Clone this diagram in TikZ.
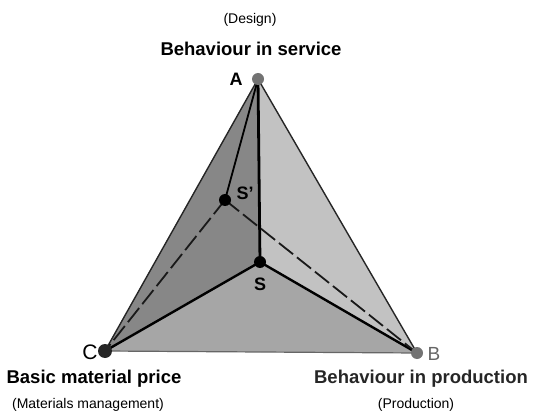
\documentclass[tikz,border=0pt]{standalone}
\usepackage{fontspec}
\setmainfont{Liberation Sans}
\begin{document}
\begin{tikzpicture}[x=1pt,y=-1pt,
  faceL/.style={fill=black!47},
  faceR/.style={fill=black!24},
  faceB/.style={fill=black!35},
  edge/.style={draw=black!85,line width=1.4pt},
  bottomedge/.style={draw=black!60,line width=1.2pt},
  heavy/.style={draw=black,line width=2.8pt},
  mid/.style={draw=black,line width=2.4pt},
  thin/.style={draw=black,line width=1.8pt},
  dashline/.style={draw=black!90,line width=1.8pt,dash pattern=on 18pt off 5pt},
  dot/.style={circle,inner sep=0pt,minimum size=#1},
  title/.style={font=\fontsize{18.5}{21}\selectfont\bfseries,inner sep=0pt},
  sub/.style={font=\fontsize{14}{17}\selectfont,inner sep=0pt},
  vlbl/.style={font=\fontsize{18}{20}\selectfont\bfseries,inner sep=0pt}
]
\useasboundingbox (0,0) rectangle (535,414);
\coordinate (A) at (258,79);
\coordinate (B) at (417,353);
\coordinate (C) at (105,351);
\coordinate (S) at (260,262);
\coordinate (Sp) at (225,200);
% faces
\fill[faceL] (A) -- (C) -- (S) -- cycle;
\fill[faceR] (A) -- (S) -- (B) -- cycle;
\fill[faceB] (C) -- (S) -- (B) -- cycle;
% outer edges
\draw[edge] (A) -- (C);
\draw[edge] (A) -- (B);
\draw[bottomedge] (C) -- (B);
% inner edges
\draw[heavy] (A) -- (S);
\draw[mid] (S) -- (C);
\draw[mid] (S) -- (B);
\draw[thin] (A) -- (Sp);
\draw[dashline] (Sp) -- (C);
\draw[dashline] (Sp) -- (B);
% vertex dots
\node[dot=12pt,fill=black!55] (dA) at (A) {};
\node[dot=12pt,fill=black!55] (dB) at (B) {};
\node[dot=14pt,fill=black!85] (dC) at (C) {};
\node[dot=12pt,fill=black] (dS) at (S) {};
\node[dot=12pt,fill=black] (dSp) at (Sp) {};
% vertex letters
\node[vlbl] (lA) at (236,79) {A};
\node[vlbl] (lSp) at (245,193) {S'};
\node[vlbl] (lS) at (260,284) {S};
\node[font=\fontsize{21}{22}\selectfont,inner sep=0pt] (lC) at (90,352) {C};
\node[font=\fontsize{19}{22}\selectfont,text=black!60,inner sep=0pt] (lB) at (434,354) {B};
% titles
\node[sub] (tD) at (250,20) {(Design)};
\node[title] (tA) at (251,49) {Behaviour in service};
\node[title] (tC) at (94,379) {Basic material price};
\node[title,text=black!85] (tB) at (421,379) {Behaviour in production};
\node[sub] (tM) at (88,405) {(Materials management)};
\node[sub] (tP) at (416,405) {(Production)};
\end{tikzpicture}
\end{document}
